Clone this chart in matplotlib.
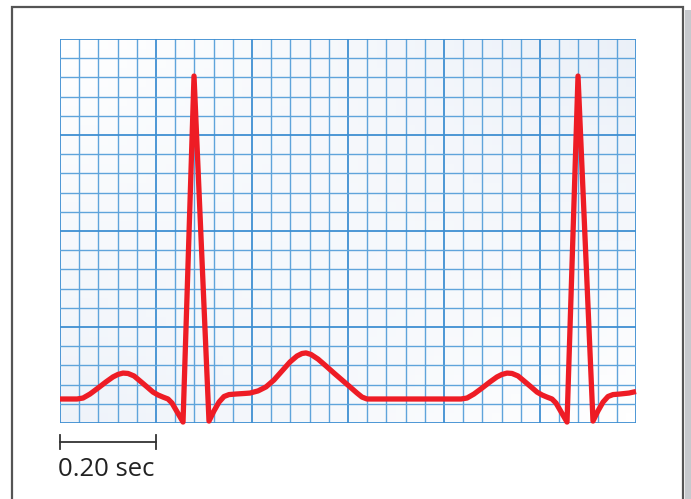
import numpy as np
import matplotlib
matplotlib.use("Agg")
import matplotlib.pyplot as plt
from matplotlib.patches import Rectangle
from matplotlib.lines import Line2D

# ECG trace: time (s) and amplitude (mV)
# one small box = 0.04 s x 0.1 mV, paper is 30 x 20 boxes
t_sec = [0.0000, 0.0354, 0.0479, 0.0625, 0.0792, 0.0958, 0.1104, 0.1208, 0.1313,
         0.1417, 0.1542, 0.1667, 0.1813, 0.1938, 0.2042, 0.2146, 0.2250, 0.2333,
         0.2563, 0.2792, 0.3104, 0.3208, 0.3313, 0.3417, 0.3521, 0.3667, 0.3854,
         0.3958, 0.4125, 0.4292, 0.4458, 0.4625, 0.4792, 0.4938, 0.5042, 0.5125,
         0.5229, 0.5375, 0.5542, 0.5708, 0.5875, 0.6042, 0.6188, 0.6292, 0.6396,
         0.6500,
         0.8354, 0.8479, 0.8625, 0.8792, 0.8958, 0.9104, 0.9208, 0.9313,
         0.9417, 0.9542, 0.9667, 0.9813, 0.9938, 1.0042, 1.0146, 1.0250, 1.0333,
         1.0563, 1.0792, 1.1104, 1.1208, 1.1313, 1.1417, 1.1521, 1.1667, 1.1854,
         1.2000]
mv = [0.125, 0.125, 0.130, 0.151, 0.182, 0.214, 0.240, 0.253, 0.260,
      0.258, 0.245, 0.219, 0.188, 0.161, 0.146, 0.135, 0.125, 0.104,
      0.005, 1.807, 0.010, 0.063, 0.109, 0.138, 0.148, 0.151, 0.154,
      0.156, 0.167, 0.188, 0.224, 0.271, 0.318, 0.349, 0.362, 0.365,
      0.357, 0.333, 0.297, 0.260, 0.224, 0.188, 0.156, 0.135, 0.125,
      0.125,
      0.125, 0.130, 0.151, 0.182, 0.214, 0.240, 0.253, 0.260,
      0.258, 0.245, 0.219, 0.188, 0.161, 0.146, 0.135, 0.125, 0.104,
      0.005, 1.807, 0.010, 0.063, 0.109, 0.138, 0.148, 0.151, 0.156,
      0.164]

box_t = 0.04
box_mv = 0.1
n_cols = 30
n_rows = 20
scale_label = "0.20 sec"

W, H = 691, 499
fig = plt.figure(figsize=(W / 100, H / 100), dpi=100)

# outer frame with a soft shadow on the right
fig.add_artist(Rectangle((685 / W, -0.1), 6 / W, 1.08, transform=fig.transFigure,
                         facecolor="#c6c9cd", edgecolor="none", zorder=-10))
fig.add_artist(Rectangle((12 / W, -0.1), 671 / W, 1.1 - 7 / H, transform=fig.transFigure,
                         facecolor="white", edgecolor="#555555", linewidth=1.6, zorder=-9))

ax = fig.add_axes([60 / W, (H - 423) / H, 576 / W, 384 / H])
ax.set_zorder(2)
xmax = n_cols * box_t
ymax = n_rows * box_mv
ax.set_xlim(0, xmax)
ax.set_ylim(0, ymax)
for s in ax.spines.values():
    s.set_visible(False)
ax.set_xticks([])
ax.set_yticks([])

# faint paper tint
gx, gy = np.meshgrid(np.linspace(0, 1, 60), np.linspace(0, 1, 40))
tint = 0.55 * gx * gy + 0.45 * (1 - gx) * (1 - gy)
ax.imshow(tint, extent=[0, xmax, 0, ymax], origin="lower", aspect="auto",
          cmap=matplotlib.colors.LinearSegmentedColormap.from_list("p", ["#ffffff", "#e9eff8"]),
          vmin=0, vmax=0.6, zorder=0)

for i in range(n_cols + 1):
    major = i % 5 == 0
    ax.axvline(i * box_t, color="#3f8fd2" if major else "#5fa4db",
               lw=1.3 if major else 1.0, zorder=1)
for j in range(n_rows + 1):
    major = j % 5 == 0
    ax.axhline(j * box_mv, color="#3f8fd2" if major else "#5fa4db",
               lw=1.3 if major else 1.0, zorder=1)

ax.plot(t_sec, mv, color="#ee1c25", lw=3.8, solid_joinstyle="round",
        solid_capstyle="butt", clip_on=False, zorder=3)

# scale bar under the paper
y_bar = (H - 442) / H
x0, x1 = 60 / W, (60 + 5 * 19.2) / W
fig.add_artist(Line2D([x0, x1], [y_bar, y_bar], color="#333333", lw=1.3))
for xx in (x0, x1):
    fig.add_artist(Line2D([xx, xx], [(H - 435) / H, (H - 449) / H], color="#333333", lw=1.3))
fig.text(58 / W, (H - 476) / H, scale_label, fontsize=18.5, family="Open Sans",
         color="#222222", ha="left", va="baseline")

fig.savefig("out.png", dpi=100)
